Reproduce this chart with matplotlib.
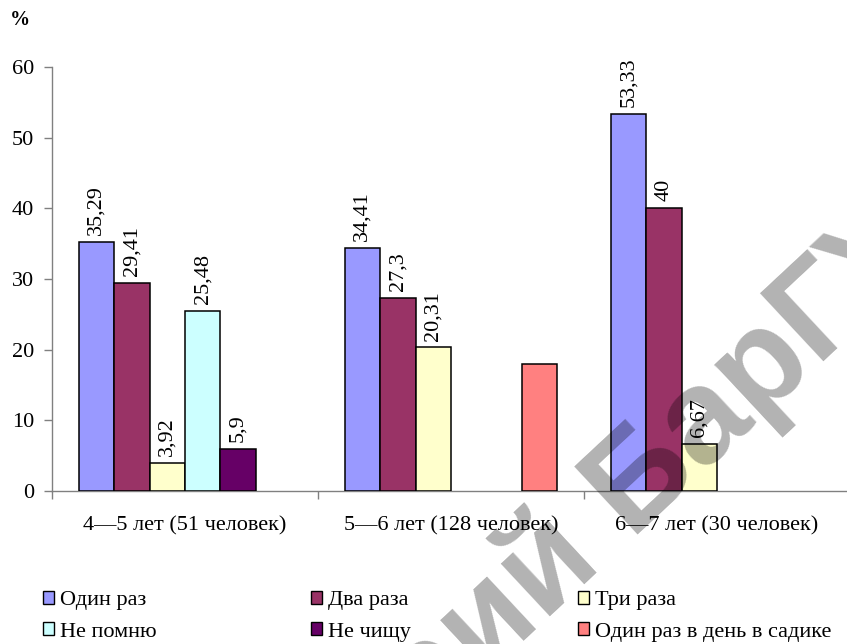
import numpy as np
import matplotlib
matplotlib.use("Agg")
import matplotlib.pyplot as plt
from matplotlib.patches import Patch
from matplotlib.font_manager import FontProperties

plt.rcParams["font.family"] = ["Liberation Serif", "DejaVu Serif"]

# Данные: доля детей (%) по частоте чистки зубов
groups = ["4—5 лет (51 человек)", "5—6 лет (128 человек)", "6—7 лет (30 человек)"]
series_names = ["Один раз", "Два раза", "Три раза",
                "Не помню", "Не чищу", "Один раз в день в садике"]
once = [35.29, 34.41, 53.33]
twice = [29.41, 27.3, 40]
three_times = [3.92, 20.31, 6.67]
dont_remember = [25.48, np.nan, np.nan]
dont_brush = [5.9, np.nan, np.nan]
in_kindergarten = [np.nan, 18.0, np.nan]
values = [once, twice, three_times, dont_remember, dont_brush, in_kindergarten]
show_labels = [True, True, True, True, True, False]
colors = ["#9999FF", "#993366", "#FFFFCC", "#CCFFFF", "#660066", "#FF8080"]

W, H = 847, 644
fig = plt.figure(figsize=(W / 100, H / 100), dpi=100)
ax = fig.add_axes([52 / W, (H - 491) / H, 798 / W, 424 / H])

fs = 16
bw = 1 / 7.5          # ширина столбца при зазоре 150 %
x0 = np.arange(len(groups))

for j, (vals, col) in enumerate(zip(values, colors)):
    xs = x0 + (0.75 + j + 0.5) * bw
    ax.bar(xs, vals, width=bw, color=col, edgecolor="black",
           linewidth=1.1, zorder=3)
    if not show_labels[j]:
        continue
    for x, v in zip(xs, vals):
        if np.isnan(v):
            continue
        txt = f"{v:g}".replace(".", ",")
        ax.annotate(txt, (x, v), xytext=(0, 5), textcoords="offset points",
                    rotation=90, ha="center", va="bottom", fontsize=fs)

ax.set_xlim(0, 3)
ax.set_ylim(0, 60)
ax.set_yticks(range(0, 61, 10))
ax.tick_params(axis="y", direction="out", length=6, width=1, color="#808080",
               labelsize=fs, pad=7)

ax.set_xticks([0, 1, 2, 3])
ax.set_xticklabels([])
ax.set_xticks(x0 + 0.5, minor=True)
ax.set_xticklabels(groups, minor=True, fontsize=fs)
ax.tick_params(axis="x", which="major", direction="out", length=6, width=1,
               color="#808080")
ax.tick_params(axis="x", which="minor", length=0, pad=18)

for side in ["top", "right"]:
    ax.spines[side].set_visible(False)
for side in ["left", "bottom"]:
    ax.spines[side].set_color("#808080")
    ax.spines[side].set_linewidth(1.0)

fig.text(10 / W, 1 - 20 / H, "%", fontsize=fs - 1.5, fontweight="bold",
         va="center", ha="left")

# Легенда: три колонки по две записи
col_x = [43, 311, 578]
for k in range(3):
    handles = [Patch(facecolor=colors[i], edgecolor="black", linewidth=1.0)
               for i in (k, k + 3)]
    fig.legend(handles, [series_names[k], series_names[k + 3]],
               loc="upper left", bbox_to_anchor=(col_x[k] / W, 1 - 591 / H),
               frameon=False, fontsize=fs, handlelength=0.5,
               handleheight=0.5, handletextpad=0.25, labelspacing=0.55,
               borderpad=0, borderaxespad=0)

# Водяной знак репозитория, привязан к началу буквы «Б»
wm_text = "Репозиторий БарГУ"
wm_angle = 43
wm_font = FontProperties(family="Liberation Sans", weight="bold", size=97)
renderer = fig.canvas.get_renderer()
w_full = renderer.get_text_width_height_descent(wm_text, wm_font, ismath=False)[0]
w_tail = renderer.get_text_width_height_descent("БарГУ", wm_font, ismath=False)[0]
shift = w_full - w_tail
a = np.deg2rad(wm_angle)
sx = 632 - shift * np.cos(a)
sy = 540 + shift * np.sin(a)
fig.text(sx / W, 1 - sy / H, wm_text, fontproperties=wm_font,
         color="black", alpha=0.3, rotation=wm_angle, rotation_mode="anchor",
         ha="left", va="baseline", zorder=10)

fig.savefig("out.png", dpi=100)
